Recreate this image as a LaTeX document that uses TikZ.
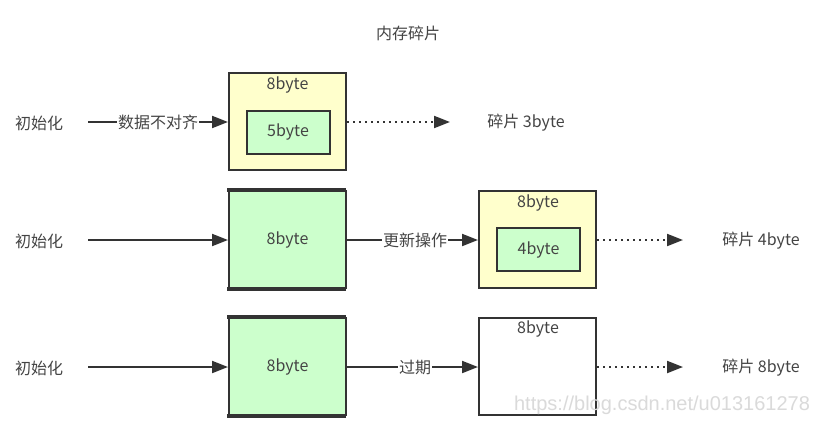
\documentclass[tikz,border=0pt]{standalone}
\usepackage{fontspec}
\setmainfont{Noto Sans CJK SC}
\newfontfamily\wmfont{Liberation Sans}
\usetikzlibrary{arrows.meta}
\definecolor{ink}{HTML}{333333}
\definecolor{txt}{HTML}{444444}
\definecolor{memyellow}{HTML}{FFFFCC}
\definecolor{memgreen}{HTML}{CCFFCC}
\definecolor{wm}{HTML}{DADADA}
\tikzset{
  lbl/.style={text=txt, font=\fontsize{16}{19}\selectfont, inner sep=1pt},
  edgelbl/.style={lbl, fill=white, inner sep=1pt},
  outerbox/.style={draw=ink, line width=2pt, minimum width=117pt, minimum height=97pt, inner sep=0pt},
  innerbox/.style={draw=ink, line width=2pt, fill=memgreen, minimum width=83pt, minimum height=43pt, inner sep=0pt, text=txt, font=\fontsize{16}{19}\selectfont},
  flow/.style={draw=ink, line width=2pt, -{Triangle[length=16pt,width=12pt]}},
  frag/.style={flow, dash pattern=on 2pt off 4pt},
}
\begin{document}
\begin{tikzpicture}[x=1pt,y=-1pt]
\useasboundingbox (0,0) rectangle (834,431);
\fill[white] (0,0) rectangle (834,431);

% title
\node[lbl] (title) at (408,33) {内存碎片};

% ---- row 1
\node[lbl] (i1) at (39,123) {初始化};
\node[outerbox, fill=memyellow] (o1) at (287.5,121.5) {};
\node[lbl] (o1t) at (287.5,85) {8byte};
\node[innerbox] (n1) at (288,132) {5byte};
\node[lbl] (f1) at (526,123) {碎片 3byte};
\coordinate (e1) at (450,122);
\draw[flow] (88,122) coordinate (s1) -- node[edgelbl] {数据不对齐} (s1 -| o1.west);
\draw[frag] (o1.east |- e1) -- (e1);

% ---- row 2
\node[lbl] (i2) at (39,241) {初始化};
\node[outerbox, fill=memgreen, text=txt, font=\fontsize{16}{19}\selectfont] (b2) at (287.5,239.5) {8byte};
\draw[ink, line width=4pt] (b2.north west) ++(-1,0) -- ++(119,0);
\draw[ink, line width=4pt] (b2.south west) ++(-1,0) -- ++(119,0);
\node[outerbox, fill=memyellow] (y2) at (537.5,239.5) {};
\node[lbl] (y2t) at (538,203) {8byte};
\node[innerbox] (n2) at (538.5,249.5) {4byte};
\node[lbl] (f2) at (761,241) {碎片 4byte};
\coordinate (e2) at (683,240);
\coordinate (s2) at (88,240);
\draw[flow] (s2) -- (s2 -| b2.west);
\draw[flow] (b2.east |- s2) -- node[edgelbl, pos=0.52] {更新操作} (s2 -| y2.west);
\draw[frag] (y2.east |- e2) -- (e2);

% ---- row 3
\node[lbl] (i3) at (39,368) {初始化};
\node[outerbox, fill=memgreen, text=txt, font=\fontsize{16}{19}\selectfont] (b3) at (287.5,366.5) {8byte};
\draw[ink, line width=4pt] (b3.north west) ++(-1,0) -- ++(119,0);
\draw[ink, line width=4pt] (b3.south west) ++(-1,0) -- ++(119,0);
\node[outerbox, fill=white] (w3) at (537.5,366) {};
\node[lbl] (w3t) at (538,329) {8byte};
\node[lbl] (f3) at (761,368) {碎片 8byte};
\coordinate (e3) at (683,367);
\coordinate (s3) at (88,367);
\draw[flow] (s3) -- (s3 -| b3.west);
\draw[flow] (b3.east |- s3) -- node[edgelbl, pos=0.52] {过期} (s3 -| w3.west);
\draw[frag] (w3.east |- e3) -- (e3);

% watermark
\node[text=wm, font=\wmfont\fontsize{20}{23}\selectfont, inner sep=0pt] (wmk) at (662,405) {https://blog.csdn.net/u013161278};
\end{tikzpicture}
\end{document}
